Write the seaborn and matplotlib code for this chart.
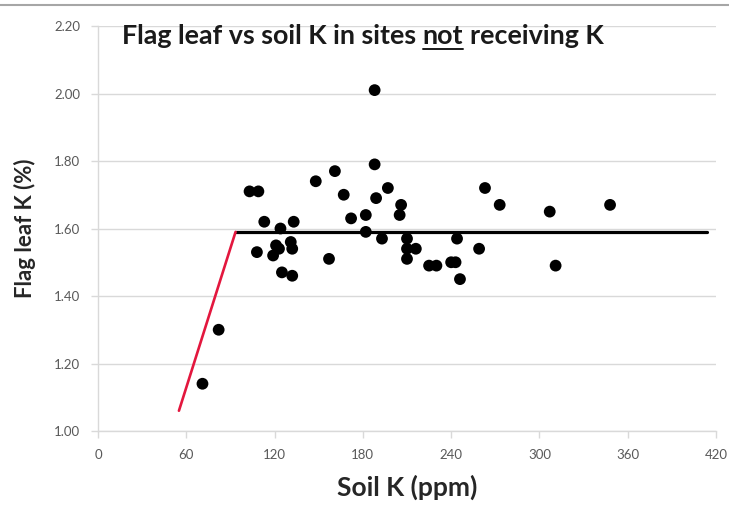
import matplotlib
matplotlib.use("Agg")
import matplotlib.pyplot as plt
from matplotlib.lines import Line2D
import seaborn as sns
import pandas as pd

# Soil K (ppm) and flag leaf K (%) for sites not receiving K
soil_k = [71, 82, 103, 109, 108, 113, 124, 133, 121, 123, 119, 131, 132, 125, 132,
          157, 148, 161, 167, 172, 182, 182, 188, 188, 189, 193, 197, 206, 205, 210,
          216, 210, 210, 225, 230, 240, 243, 244, 246, 259, 263, 273, 307, 311, 348]
leaf_k = [1.14, 1.30, 1.71, 1.71, 1.53, 1.62, 1.60, 1.62, 1.55, 1.54, 1.52, 1.56, 1.54, 1.47, 1.46,
          1.51, 1.74, 1.77, 1.70, 1.63, 1.64, 1.59, 2.01, 1.79, 1.69, 1.57, 1.72, 1.67, 1.64, 1.57,
          1.54, 1.54, 1.51, 1.49, 1.49, 1.50, 1.50, 1.57, 1.45, 1.54, 1.72, 1.67, 1.65, 1.49, 1.67]

# Linear-plateau fit: rising segment then plateau
fit_x = [55, 93.5, 414]
fit_y = [1.06, 1.59, 1.59]

x_ticks = [0, 60, 120, 180, 240, 300, 360, 420]
y_ticks = [1.00, 1.20, 1.40, 1.60, 1.80, 2.00, 2.20]

title_parts = ["Flag leaf vs soil K in sites", "not", "receiving K"]
x_label = "Soil K (ppm)"
y_label = "Flag leaf K (%)"

sns.set_theme(style="white")
plt.rcParams["font.family"] = ["Lato", "DejaVu Sans"]

W, H = 729, 508
fig = plt.figure(figsize=(W / 100, H / 100), dpi=100)
ax = fig.add_axes([98 / W, 1 - 431 / H, (716 - 98) / W, (431 - 26) / H])

points = pd.DataFrame({"soil": soil_k, "leaf": leaf_k})
rise = pd.DataFrame({"x": fit_x[:2], "y": fit_y[:2]})
plateau = pd.DataFrame({"x": fit_x[1:], "y": fit_y[1:]})

sns.lineplot(data=plateau, x="x", y="y", color="black", linewidth=2.3, sort=False, ax=ax, zorder=2)
sns.lineplot(data=rise, x="x", y="y", color="#e3173e", linewidth=1.9, sort=False, ax=ax, zorder=2)
sns.scatterplot(data=points, x="soil", y="leaf", color="black", s=72, edgecolor="none",
                ax=ax, zorder=3)

ax.set_xlim(0, 420)
ax.set_ylim(1.0, 2.2)
ax.set_xticks(x_ticks)
ax.set_yticks(y_ticks)
ax.set_xticklabels([str(v) for v in x_ticks])
ax.set_yticklabels([f"{v:.2f}" for v in y_ticks])
ax.yaxis.grid(True, color="#d9d9d9", linewidth=1.0)
ax.xaxis.grid(False)
ax.set_axisbelow(True)
for side in ["top", "right"]:
    ax.spines[side].set_visible(False)
for side in ["left", "bottom"]:
    ax.spines[side].set_color("#d9d9d9")
    ax.spines[side].set_linewidth(1.0)
ax.tick_params(axis="both", which="major", labelsize=9.5, labelcolor="#595959",
               color="#d9d9d9", length=5, width=1, direction="out",
               left=True, bottom=True)
ax.tick_params(axis="y", pad=8)
ax.tick_params(axis="x", pad=8)

ax.set_xlabel(x_label, fontsize=19, fontweight="bold", color="#262626", labelpad=10)
ax.set_ylabel(y_label, fontsize=16, fontweight="bold", color="#262626", labelpad=13)

# Title drawn in pieces so the middle word can be underlined
fig.canvas.draw()
renderer = fig.canvas.get_renderer()
title_left, title_right = 122, 607


def title_width(size):
    kw = dict(fontsize=size, fontweight="bold")
    a = fig.text(0, 0, "x x", **kw)
    b = fig.text(0, 0, "xx", **kw)
    sp = a.get_window_extent(renderer).width - b.get_window_extent(renderer).width
    a.remove()
    b.remove()
    total = 0
    for part in title_parts:
        t = fig.text(0, 0, part, **kw)
        total += t.get_window_extent(renderer).width
        t.remove()
    return total + sp * (len(title_parts) - 1), sp


size = 18.0
w, _ = title_width(size)
size *= (title_right - title_left) / w
_, space_w = title_width(size)

tkw = dict(fontsize=size, fontweight="bold", color="#1a1a1a", va="baseline", ha="left")
x_px = title_left
base_px = H - 44
for i, part in enumerate(title_parts):
    t = fig.text(x_px / W, base_px / H, part, **tkw)
    bb = t.get_window_extent(renderer)
    if i == 1:
        fig.add_artist(Line2D([bb.x0 / W, bb.x1 / W], [(base_px - 5) / H] * 2,
                              color="#1a1a1a", linewidth=1.4, transform=fig.transFigure))
    x_px = bb.x1 + space_w

# Thin frame line along the top edge
fig.add_artist(Line2D([0, 1], [1 - 5 / H] * 2, color="#a6a6a6", linewidth=1.5,
                      transform=fig.transFigure))

fig.savefig("out.png", dpi=100)
